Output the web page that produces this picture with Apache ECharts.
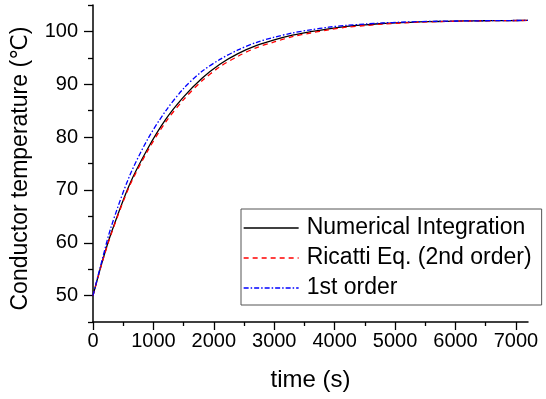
<!DOCTYPE html>
<html><head><meta charset="utf-8">
<script src="https://cdn.jsdelivr.net/npm/echarts@6/dist/echarts.min.js"></script>
<style>html,body{margin:0;padding:0;background:#fff}#c{width:546px;height:399px}</style>
</head><body><div id="c"></div>
<script>
const times = [0,150,300,600,900,1200,1500,1800,2100,2400,2700,3000,3300,3600,3900,4200,4500,4800,5100,5400,5700,6000,6300,6600,6900,7200];
const numerical = [50,56.3,61.8,70.9,77.7,83.3,87.6,91.1,93.8,95.8,97.3,98.4,99.3,99.95,100.5,100.95,101.25,101.5,101.65,101.8,101.88,101.95,102.0,102.03,102.06,102.08];
const ricatti = [50,56.2,61.6,70.6,77.3,82.8,87.1,90.6,93.3,95.3,96.9,98.0,99.0,99.7,100.3,100.8,101.1,101.4,101.6,101.75,101.85,101.93,101.98,102.02,102.05,102.08];
const firstOrder = [50,56.7,63.0,72.5,79.5,84.9,89.2,92.4,94.7,96.5,97.9,98.9,99.7,100.3,100.8,101.15,101.4,101.6,101.75,101.85,101.92,101.97,102.0,102.03,102.06,102.08];
const xMajor = [0,1000,2000,3000,4000,5000,6000,7000];
const xMinor = [500,1500,2500,3500,4500,5500,6500];
const yMajor = [50,60,70,80,90,100];
const yMinor = [45,55,65,75,85,95,105];
const names = ['Numerical Integration','Ricatti Eq. (2nd order)','1st order'];

const pair = arr => times.map((t,i)=>[t,arr[i]]);
const FONT = '"Liberation Sans", Arial, "DejaVu Sans", sans-serif';
const chart = echarts.init(document.getElementById('c'));
const baseX = {type:'value',min:0,max:7200,gridIndex:0};
const baseY = {type:'value',min:45,max:105,gridIndex:0};
chart.setOption({
  animation:false,
  backgroundColor:'#fff',
  grid:{left:93,right:18,top:5,bottom:77},
  xAxis:[
    Object.assign({},baseX,{
      name:'time (s)',nameLocation:'middle',nameGap:46,
      nameTextStyle:{fontFamily:FONT,fontSize:24,color:'#000'},
      axisLine:{show:true,lineStyle:{color:'#000',width:1.5}},
      axisTick:{show:true,length:8,lineStyle:{color:'#000',width:1.3},customValues:xMajor},
      axisLabel:{show:true,margin:9,fontFamily:FONT,fontSize:20,color:'#000',customValues:xMajor,formatter:v=>String(v)},
      splitLine:{show:false}
    }),
    Object.assign({},baseX,{
      position:'bottom',
      axisLine:{show:false},
      axisTick:{show:true,length:4,lineStyle:{color:'#000',width:1.3},customValues:xMinor},
      axisLabel:{show:false},splitLine:{show:false}
    })
  ],
  yAxis:[
    Object.assign({},baseY,{
      name:'Conductor temperature (\u2103)',nameLocation:'middle',nameGap:61,
      nameTextStyle:{fontFamily:FONT,fontSize:23,color:'#000',padding:[0,10,0,0]},
      axisLine:{show:true,lineStyle:{color:'#000',width:1.5}},
      axisTick:{show:true,length:9,lineStyle:{color:'#000',width:1.3},customValues:yMajor},
      axisLabel:{show:true,margin:15,fontFamily:FONT,fontSize:20,color:'#000',customValues:yMajor,formatter:v=>String(v)},
      splitLine:{show:false}
    }),
    Object.assign({},baseY,{
      position:'left',
      axisLine:{show:false},
      axisTick:{show:true,length:5,lineStyle:{color:'#000',width:1.3},customValues:yMinor},
      axisLabel:{show:false},splitLine:{show:false}
    })
  ],
  legend:{
    show:true,
    orient:'vertical',left:241,top:209,
    itemWidth:55,itemHeight:14,itemGap:6,
    padding:[7,10,5,2],
    borderColor:'#555',borderWidth:1,backgroundColor:'#fff',
    itemStyle:{opacity:0},
    lineStyle:{width:1.3},
    textStyle:{fontFamily:FONT,fontSize:23,color:'#000',lineHeight:24,padding:[0,0,0,3]},
    data:names
  },
  series:[
    {name:names[0],type:'line',data:pair(numerical),showSymbol:false,symbol:'none',smooth:0.3,
     lineStyle:{color:'#000',width:1.3},itemStyle:{color:'#000'},z:3},
    {name:names[1],type:'line',data:pair(ricatti),showSymbol:false,symbol:'none',smooth:0.3,
     lineStyle:{color:'#ff0000',width:1.3,type:[5,4]},itemStyle:{color:'#ff0000'},z:4},
    {name:names[2],type:'line',data:pair(firstOrder),showSymbol:false,symbol:'none',smooth:0.3,
     lineStyle:{color:'#0000ff',width:1.3,type:[5,2,1.5,2]},itemStyle:{color:'#0000ff'},z:5}
  ]
});
</script></body></html>
